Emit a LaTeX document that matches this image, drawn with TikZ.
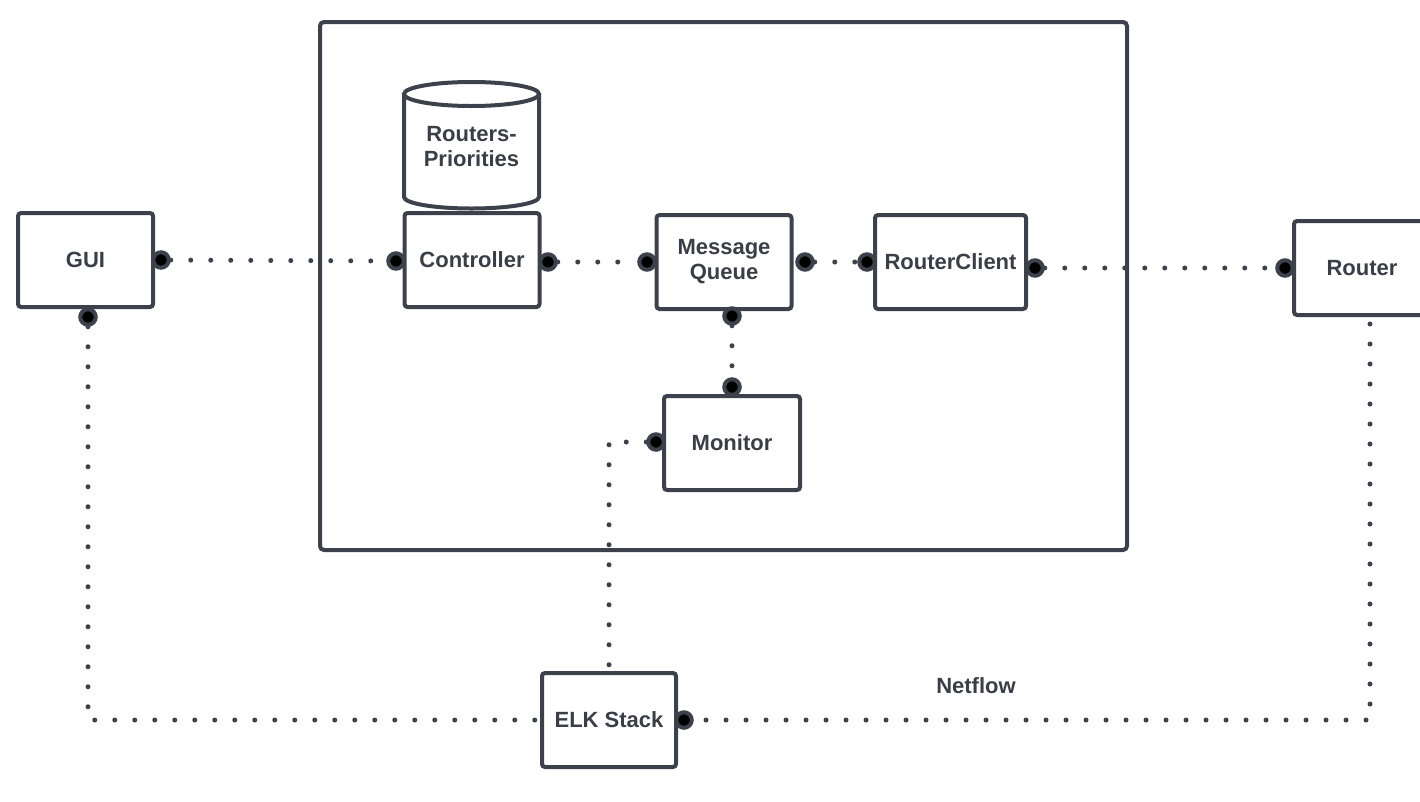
\documentclass[tikz,border=0pt]{standalone}
\usepackage{fontspec}
\setmainfont{Liberation Sans}
\definecolor{ink}{HTML}{3C414B}
\definecolor{txt}{HTML}{3A3E46}
\begin{document}
\begin{tikzpicture}[x=1pt,y=-1pt,
  lbl/.style={text=txt, font=\bfseries\fontsize{22}{25}\selectfont, align=center, inner sep=0pt},
  box/.style={lbl, draw=ink, line width=4pt, rounded corners=3pt, fill=white,
              minimum width=135pt, minimum height=94pt},
  dotline/.style={draw=ink, line width=5pt, line cap=round, dash pattern=on 0pt off 20pt},
  port/.style={circle, fill=black, draw=ink, line width=4pt, minimum size=15.5pt, inner sep=0pt}]
\useasboundingbox (0,0) rectangle (1420,801);
\fill[white] (0,0) rectangle (1420,801);

% container
\draw[ink, line width=4pt, rounded corners=4pt] (320,22) rectangle (1127,550);

% database cylinder
\draw[ink, line width=4pt, fill=white]
  (404,94) -- (404,197) arc[start angle=180, end angle=360, x radius=67.5pt, y radius=11.5pt]
  -- (539,94);
\draw[ink, line width=4pt, fill=white] (471.5,94) ellipse[x radius=67.5pt, y radius=12pt];
\node[lbl] (db) at (471.5,147) {Routers-\\Priorities};

% boxes
\node[box] (gui)  at (85.5,260) {GUI};
\node[box] (ctrl) at (472,260) {Controller};
\node[box] (mq)   at (724,262) {Message\\Queue};
\node[box, minimum width=151pt] (rc) at (950.5,262) {RouterClient};
\node[box, minimum width=140pt] (rt) at (1364,268) {\hspace*{-4pt}Router};
\node[box, minimum width=136pt] (mon) at (732,443) {Monitor};
\node[box, minimum width=134pt] (elk) at (609,720) {ELK Stack};
\node[lbl] (nf) at (976,686) {Netflow};

% ports
\node[port] (guiE)  at (161,260) {};
\node[port] (guiS)  at (88,317) {};
\node[port] (ctrlW) at (396,261) {};
\node[port] (ctrlE) at (548,262) {};
\node[port] (mqW)   at (647,262) {};
\node[port] (mqE)   at (805,262) {};
\node[port] (mqS)   at (732,316) {};
\node[port] (rcW)   at (867,262) {};
\node[port] (rcE)   at (1035,268) {};
\node[port] (rtW)   at (1285,268) {};
\node[port] (monN)  at (732,387) {};
\node[port] (monW)  at (656,442) {};
\node[port] (elkE)  at (684,720) {};
\coordinate (rtS) at (1370,324);

% connectors
\draw[dotline] (guiE) -- (ctrlW);
\draw[dotline] (ctrlE) -- (mqW);
\draw[dotline] (mqE) -- (rcW);
\draw[dotline] (rcE) -- (rtW);
\draw[dotline] (mqS) -- (monN);
\draw[dotline] (monW) -| (elk.north);
\draw[dotline] (guiS) |- (elk.west);
\draw[dotline] (rtS) |- (elkE);
\end{tikzpicture}
\end{document}
